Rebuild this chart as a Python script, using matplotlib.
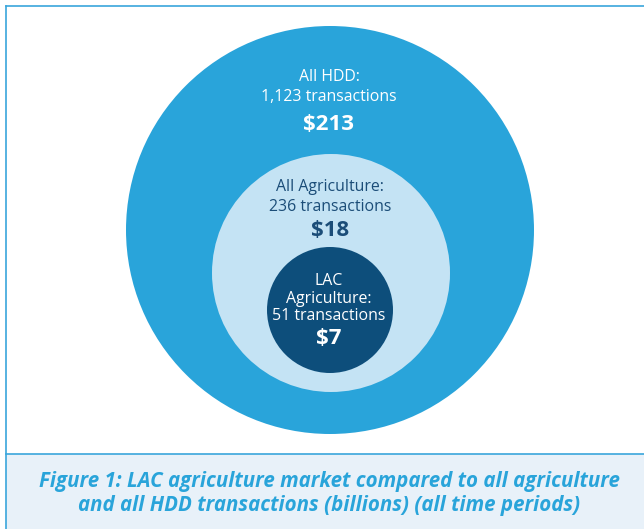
import matplotlib
matplotlib.use("Agg")
import matplotlib.pyplot as plt
from matplotlib.patches import Circle, Rectangle

# Data
labels = ["All HDD:", "All Agriculture:", "LAC\nAgriculture:"]
transactions = [1123, 236, 51]
values = [213, 18, 7]

# Layout (pixel coordinates, y downward)
W, H = 644, 529
centers = [(330, 230), (331, 273), (330, 310)]
radii = [204, 119, 63]
fills = ["#29a4da", "#c4e3f4", "#0d4e7b"]
text_colors = ["white", "#1b4d78", "white"]
text_x = [329, 330, 329]
label_y = [[77, 97], [187, 207], [281, 299, 316]]
value_y = [124, 231, 339]

plt.rcParams['font.family'] = ['Open Sans', 'DejaVu Sans']

fig = plt.figure(figsize=(W / 100, H / 100), dpi=100)
ax = fig.add_axes([0, 0, 1, 1])
ax.set_xlim(0, W)
ax.set_ylim(H, 0)
ax.axis("off")

# frame
ax.add_patch(Rectangle((6, 454), W, H - 454, facecolor="#e8f1f9", edgecolor="none", zorder=0))
ax.plot([6, 6], [6, H], color="#3aa6dc", lw=1.2, zorder=1)
ax.plot([6, W], [6, 6], color="#3aa6dc", lw=1.2, zorder=1)
ax.plot([6, W], [454, 454], color="#3aa6dc", lw=1.2, zorder=1)

for i in range(3):
    ax.add_patch(Circle(centers[i], radii[i], facecolor=fills[i], edgecolor="none", zorder=2 + i))
    lines = labels[i].split("\n") + [f"{transactions[i]:,} transactions"]
    cx = text_x[i]
    for ln, yy in zip(lines, label_y[i]):
        ax.text(cx, yy, ln, ha="center", va="center", fontsize=11.4, color=text_colors[i],
                fontweight="medium", zorder=10)
    ax.text(cx, value_y[i], f"${values[i]}", ha="center", va="center", fontsize=16,
            fontweight="bold", color=text_colors[i], zorder=10)

ax.text(329, 481, "Figure 1: LAC agriculture market compared to all agriculture",
        ha="center", va="center", fontsize=14.8, fontweight="bold", fontstyle="italic", color="#29a4da")
ax.text(329, 505, "and all HDD transactions (billions) (all time periods)",
        ha="center", va="center", fontsize=14.8, fontweight="bold", fontstyle="italic", color="#29a4da")

fig.savefig("out.png", dpi=100)
